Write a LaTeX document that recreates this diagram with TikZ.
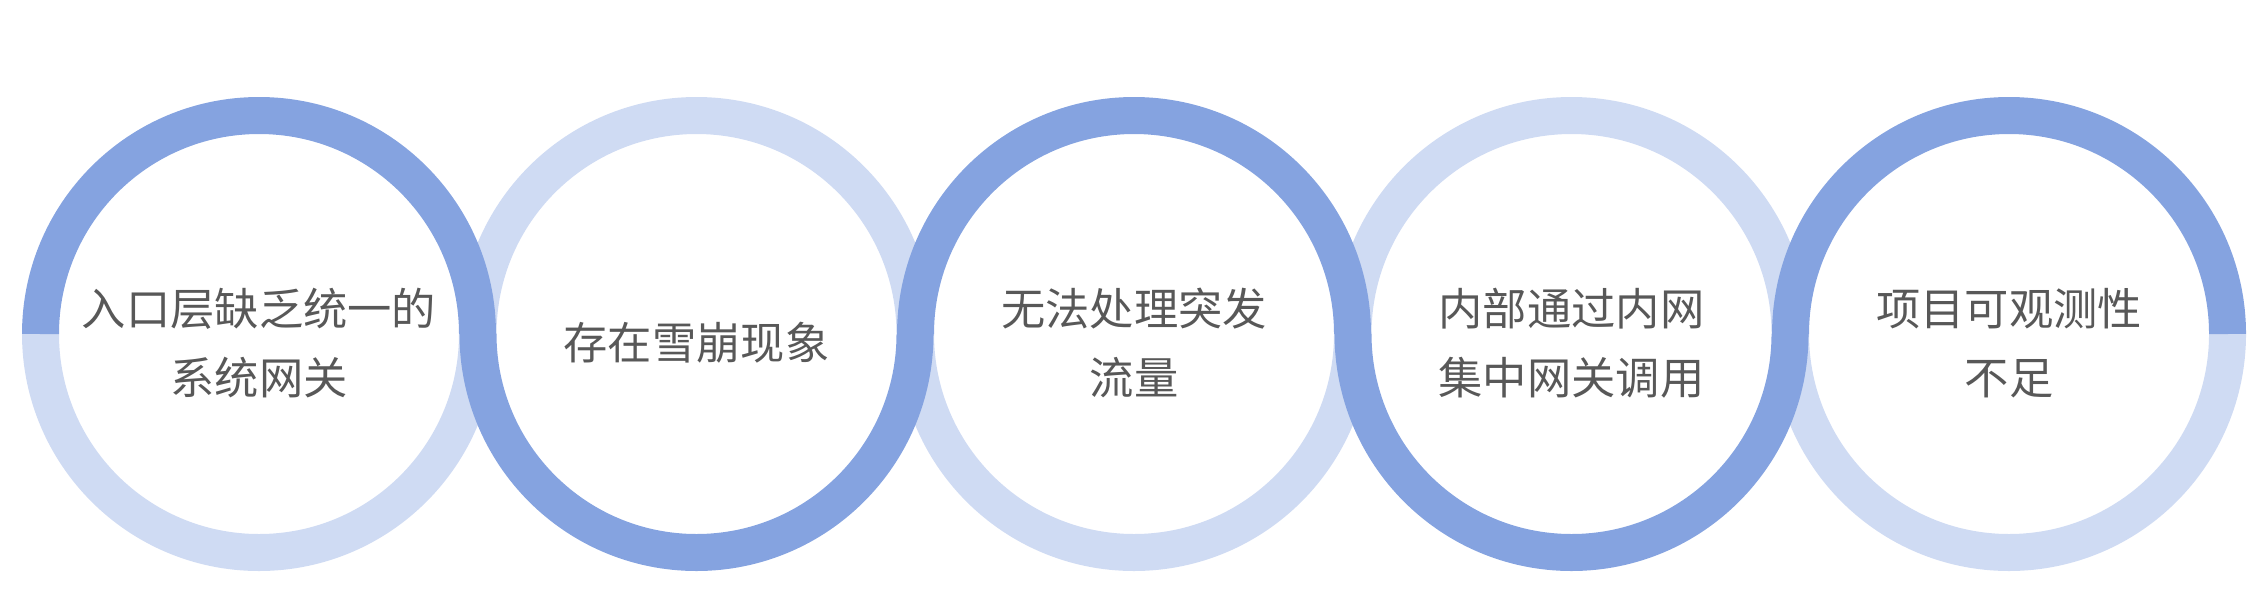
\documentclass[tikz,border=0pt]{standalone}
\usepackage{fontspec}
\newfontfamily\cjk{Noto Sans CJK SC}
\usetikzlibrary{calc}
\usepackage{xcolor}
\definecolor{ringdark}{RGB}{133,163,224}
\definecolor{ringlight}{RGB}{207,219,243}
\definecolor{txtgray}{RGB}{88,88,88}

\begin{document}
\begin{tikzpicture}[line cap=butt, x=1cm, y=1cm,
  lighthalf/.style={ringlight, line width=0.37cm},
  darkhalf/.style={ringdark, line width=0.37cm},
  tag/.style={text=txtgray, align=center, inner sep=0pt, font=\cjk\fontsize{12.6}{19.8}\selectfont}]
\useasboundingbox (0,0) rectangle (22.5,6.14);

% 圆心
\coordinate (C1) at (2.59,2.80);
\coordinate (C2) at (6.965,2.80);
\coordinate (C3) at (11.34,2.80);
\coordinate (C4) at (15.715,2.80);
\coordinate (C5) at (20.09,2.80);

% 浅色半环 (下层)
\draw [lighthalf] ($(C1)+(2.185,0)$) arc (0:-180:2.185);
\draw [lighthalf] ($(C2)+(2.185,0)$) arc (0:180:2.185);
\draw [lighthalf] ($(C3)+(2.185,0)$) arc (0:-180:2.185);
\draw [lighthalf] ($(C4)+(2.185,0)$) arc (0:180:2.185);
\draw [lighthalf] ($(C5)+(2.185,0)$) arc (0:-180:2.185);

% 深色半环 (上层, 连成波浪)
\draw [darkhalf] ($(C1)+(2.185,0)$) arc (0:180:2.185);
\draw [darkhalf] ($(C2)+(2.185,0)$) arc (0:-180:2.185);
\draw [darkhalf] ($(C3)+(2.185,0)$) arc (0:180:2.185);
\draw [darkhalf] ($(C4)+(2.185,0)$) arc (0:-180:2.185);
\draw [darkhalf] ($(C5)+(2.185,0)$) arc (0:180:2.185);

% 文字
\node [tag] (T1) at ($(C1)+(0,-0.09)$) {入口层缺乏统一的\\系统网关};
\node [tag] (T2) at ($(C2)+(0,-0.09)$) {存在雪崩现象};
\node [tag] (T3) at ($(C3)+(0,-0.09)$) {无法处理突发\\流量};
\node [tag] (T4) at ($(C4)+(0,-0.09)$) {内部通过内网\\集中网关调用};
\node [tag] (T5) at ($(C5)+(0,-0.09)$) {项目可观测性\\不足};

\end{tikzpicture}
\end{document}
